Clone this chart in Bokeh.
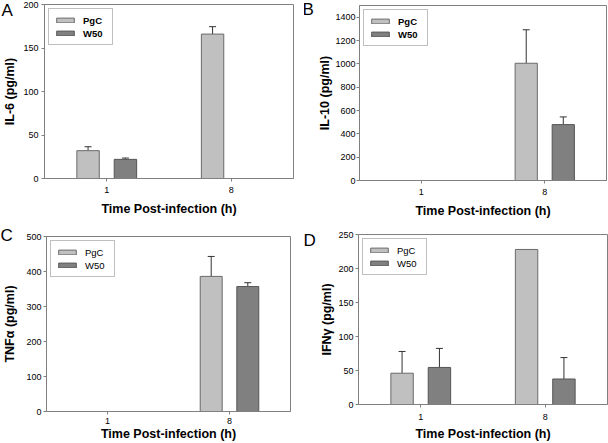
import numpy as np
from bokeh.plotting import figure
from bokeh.models import (ColumnDataSource, FactorRange, FixedTicker, Whisker,
                          TeeHead, Legend, LegendItem, Label, Range1d)
from bokeh.transform import dodge
from bokeh.layouts import gridplot
from bokeh.embed import file_html
from bokeh.resources import INLINE

nan = np.nan

# ---- data ----
times = ["1", "8"]
groups = ["PgC", "W50"]
x_title = "Time Post-infection (h)"

il6_pgc = [32, 166]
il6_pgc_err = [4.5, 8.5]
il6_w50 = [22, nan]
il6_w50_err = [1.5, nan]

il10_pgc = [nan, 1005]
il10_pgc_err = [nan, 287]
il10_w50 = [nan, 479]
il10_w50_err = [nan, 66]

tnf_pgc = [nan, 386]
tnf_pgc_err = [nan, 57]
tnf_w50 = [nan, 357]
tnf_w50_err = [nan, 11]

ifn_pgc = [46, 228]
ifn_pgc_err = [32, nan]
ifn_w50 = [54.5, 37.5]
ifn_w50_err = [28, 31.5]

FONT = "Liberation Sans"
GRAY = "#808080"
COLORS = {"PgC": "#c0c0c0", "W50": "#808080"}
EDGES = {"PgC": "#6a6a6a", "W50": "#555555"}


def panel(letter, ylabel, pgc, pgc_err, w50, w50_err, ymax, yticks, bold_legend,
          width, height, borders, y_std, x_std, letter_side, letter_pos):
    left, right, top, bottom = borders
    p = figure(width=width, height=height, x_range=FactorRange(*times),
               y_range=Range1d(0, ymax), output_backend="svg",
               toolbar_location=None, min_border_left=left,
               min_border_right=right, min_border_top=top,
               min_border_bottom=bottom)
    p.frame_align = False
    p.xgrid.visible = False
    p.ygrid.visible = False
    p.outline_line_color = GRAY
    p.outline_line_width = 1
    p.background_fill_color = "white"
    p.border_fill_color = "white"

    series = [("PgC", pgc, pgc_err, -0.15), ("W50", w50, w50_err, 0.15)]
    items = []
    for name, vals, errs, off in series:
        vals = np.array(vals, dtype=float)
        errs = np.array(errs, dtype=float)
        src = ColumnDataSource(dict(t=times, v=vals, hi=vals + errs))
        r = p.vbar(x=dodge("t", off, range=p.x_range), top="v", bottom=0,
                   width=0.18, source=src, fill_color=COLORS[name],
                   line_color=EDGES[name], line_width=1)
        items.append(LegendItem(label=name, renderers=[r]))
        w = Whisker(base=dodge("t", off, range=p.x_range), lower="v",
                    upper="hi", source=src, line_color="#333333",
                    line_width=1, lower_head=None,
                    upper_head=TeeHead(size=7, line_color="#333333",
                                       line_width=1))
        p.add_layout(w)

    leg = Legend(items=items, location="top_left")
    leg.margin = 4
    leg.padding = 5
    leg.spacing = 1
    leg.label_height = 12
    leg.glyph_height = 6
    leg.glyph_width = 22
    leg.label_standoff = 7
    leg.label_width = 24
    leg.border_line_color = GRAY
    leg.border_line_width = 1
    leg.background_fill_alpha = 1
    leg.label_text_font = FONT
    leg.label_text_font_size = "9.5px"
    leg.label_text_font_style = "bold" if bold_legend else "normal"
    leg.label_text_color = "black"
    p.add_layout(leg)

    for ax in (p.xaxis[0], p.yaxis[0]):
        ax.axis_line_color = GRAY
        ax.major_tick_line_color = GRAY
        ax.major_tick_out = 3
        ax.major_tick_in = 0
        ax.minor_tick_line_color = None
        ax.major_label_text_font = FONT
        ax.major_label_text_font_size = "9px"
        ax.major_label_text_color = "black"
        ax.axis_label_text_font = FONT
        ax.axis_label_text_font_style = "bold"
        ax.axis_label_text_font_size = "12.5px"
        ax.axis_label_text_color = "black"

    p.yaxis[0].ticker = FixedTicker(ticks=yticks)
    p.yaxis[0].axis_label = ylabel
    p.yaxis[0].major_label_standoff = y_std[0]
    p.yaxis[0].axis_label_standoff = y_std[1]
    p.xaxis[0].axis_label = x_title
    p.xaxis[0].major_label_standoff = x_std[0]
    p.xaxis[0].axis_label_standoff = x_std[1]

    # panel letter, placed in a side panel so that it is not clipped
    lx, ly = letter_pos
    p.add_layout(Label(x=lx, y=ly, x_units="screen", y_units="screen",
                       text=letter, text_font=FONT, text_font_size="17px",
                       text_baseline="alphabetic", text_align="left",
                       text_color="black"), letter_side)
    return p


pA = panel("A", "IL-6 (pg/ml)", il6_pgc, il6_pgc_err, il6_w50, il6_w50_err,
           200, [0, 50, 100, 150, 200], True, 304, 221, (42, 8, 4, 43),
           (3, 3), (5, 6), "right", (-292, 168))
pB = panel("B", "IL-10 (pg/ml)", il10_pgc, il10_pgc_err, il10_w50,
           il10_w50_err, 1500, [0, 200, 400, 600, 800, 1000, 1200, 1400], True,
           304, 221, (54, 2, 5, 41), (1, 0), (5, 6), "left", (-2, 171))
pC = panel("C", "TNFα (pg/ml)", tnf_pgc, tnf_pgc_err, tnf_w50, tnf_w50_err,
           500, [0, 100, 200, 300, 400, 500], False, 304, 222, (42, 14, 15, 32),
           (2, 6), (3, 0), "right", (-290, 176))
pD = panel("D", "IFNγ (pg/ml)", ifn_pgc, ifn_pgc_err, ifn_w50, ifn_w50_err,
           250, [0, 50, 100, 150, 200, 250], False, 304, 222, (54, 1, 13, 38),
           (2, 1), (6, 4), "left", (-2, 164))

grid = gridplot([[pA, pB], [pC, pD]], toolbar_location=None)
open("out.html", "w").write(file_html(grid, INLINE))
